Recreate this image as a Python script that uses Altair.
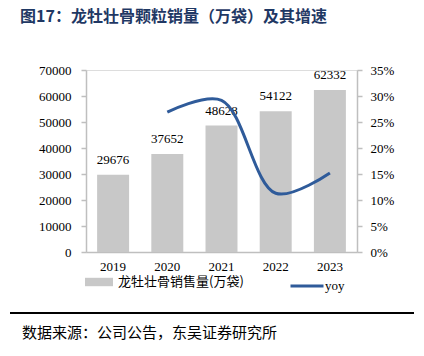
import altair as alt
import pandas as pd

years = ["2019", "2020", "2021", "2022", "2023"]
sales = [29676, 37652, 48628, 54122, 62332]
yoy = [None, 0.269, 0.2915, 0.113, 0.152]
bar_series = "龙牡壮骨销售量(万袋)"
line_series = "yoy"
title_text = "图17：龙牡壮骨颗粒销量（万袋）及其增速"
source_text = "数据来源：公司公告，东吴证券研究所"
left_ticks = [0, 10000, 20000, 30000, 40000, 50000, 60000, 70000]
right_ticks = [0, 0.05, 0.10, 0.15, 0.20, 0.25, 0.30, 0.35]

df = pd.DataFrame({"year": years, "sales": sales, "yoy": yoy})
df["s1"] = bar_series
df["s2"] = line_series

SERIF = "Liberation Serif"
CJK = "Noto Sans CJK SC"
AX = "#BFBFBF"

xenc = alt.X("year:N", title=None, sort=years,
             scale=alt.Scale(paddingInner=0.41, paddingOuter=0.205),
             axis=alt.Axis(labelAngle=0, ticks=False, domainColor=AX, domainWidth=1.5,
                           labelFont=SERIF, labelFontSize=13, labelColor="#000000",
                           labelPadding=8))

left_axis = alt.Axis(values=left_ticks, format="d", labelOverlap=False, grid=False,
                     domainColor=AX, domainWidth=1.5,
                     tickColor=AX, tickSize=5, tickWidth=1.5,
                     labelFont=SERIF, labelFontSize=13, labelColor="#000000",
                     labelPadding=10)

base = alt.Chart(df).encode(x=xenc)

bars = base.mark_bar(opacity=1).encode(
    y=alt.Y("sales:Q", title=None, scale=alt.Scale(domain=[0, 70000]), axis=left_axis),
    color=alt.Color("s1:N", title=None,
                    scale=alt.Scale(range=["#C8C8C8"]),
                    legend=alt.Legend(orient="none", legendX=-1, legendY=198,
                                      symbolType="M-1,-0.3H1V0.3H-1Z", symbolSize=784,
                                      symbolStrokeWidth=0, labelFont=CJK, labelFontSize=13,
                                      labelColor="#000000", labelOffset=5)),
)

labels = base.mark_text(font=SERIF, fontSize=13, color="#000000", baseline="middle", dy=-15).encode(
    y=alt.Y("sales:Q", title=None, scale=alt.Scale(domain=[0, 70000]), axis=left_axis),
    text=alt.Text("sales:Q", format="d"),
)

line = base.mark_line(interpolate="catmull-rom", strokeWidth=3).encode(
    y=alt.Y("yoy:Q", title=None, scale=alt.Scale(domain=[0, 0.35]),
            axis=alt.Axis(orient="right", values=right_ticks, format=".0%", labelOverlap=False,
                          grid=False, domainColor=AX, domainWidth=1.5, tickColor=AX, tickSize=5,
                          tickWidth=1.5, labelFont=SERIF, labelFontSize=13,
                          labelColor="#000000", labelPadding=8)),
    stroke=alt.Stroke("s2:N", title=None,
                      scale=alt.Scale(range=["#2F5B9A"]),
                      legend=alt.Legend(orient="none", legendX=203, legendY=198,
                                        symbolType="stroke", symbolSize=1089,
                                        symbolStrokeWidth=3, labelFont=SERIF,
                                        labelFontSize=13, labelColor="#000000",
                                        labelOffset=0)),
)

title = alt.Chart(pd.DataFrame({"t": [title_text]})).mark_text(
    font=CJK, fontSize=16, fontWeight="bold", color="#1F3864", align="left", baseline="middle"
).encode(x=alt.value(-66), y=alt.value(-53), text="t:N")

rule = alt.Chart(pd.DataFrame({"a": [0]})).mark_rule(color="#000000", strokeWidth=2).encode(
    x=alt.value(-76), x2=alt.value(328), y=alt.value(243)
)

source = alt.Chart(pd.DataFrame({"t": [source_text]})).mark_text(
    font=CJK, fontSize=15, color="#000000", align="left", baseline="middle"
).encode(x=alt.value(-64), y=alt.value(263), text="t:N")

chart = alt.layer(
    alt.layer(bars, labels), line, title, rule, source
).resolve_scale(y="independent", color="independent", stroke="independent").properties(
    width=271, height=182,
    autosize=alt.AutoSizeParams(type="none"),
    padding={"left": 78, "top": 62, "right": 59, "bottom": 96},
).configure_view(strokeWidth=0).configure(background="#FFFFFF")

chart.save("out.html", embed_options={"renderer": "svg", "actions": False})
